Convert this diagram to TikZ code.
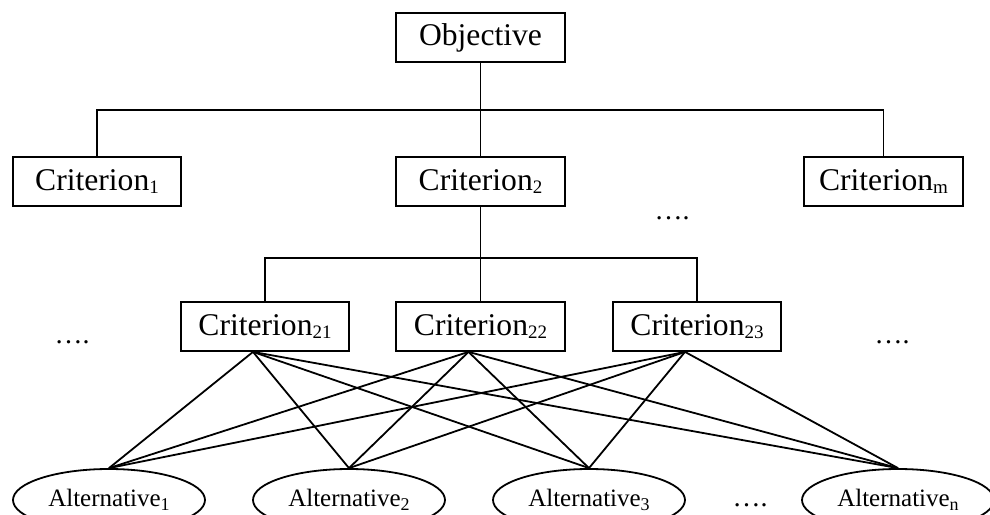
\documentclass[tikz,border=0pt]{standalone}
\usepackage{fontspec}
\setmainfont{Liberation Serif}
\usetikzlibrary{shapes.geometric}
\newcommand{\csub}[1]{\raisebox{-3pt}{\fontsize{19}{19}\selectfont #1}}
\newcommand{\asub}[1]{\raisebox{-4pt}{\fontsize{18}{18}\selectfont #1}}
\tikzset{
  crit/.style={draw, line width=1.8pt, minimum height=49pt, inner sep=0pt, font=\fontsize{31.6}{36}\selectfont},
  alt/.style={draw, ellipse, line width=1.8pt, minimum width=192pt, minimum height=62pt, inner sep=0pt, font=\fontsize{25}{28}\selectfont},
  dots/.style={anchor=base, inner sep=0pt, font=\fontsize{28}{30}\selectfont},
  conn/.style={line width=1.8pt}
}
\begin{document}
\begin{tikzpicture}[x=1pt,y=-1pt]
\useasboundingbox (0,0) rectangle (990,514);
\clip (0,0) rectangle (990,514);
% top level
\node[crit, minimum width=169pt] (obj) at (480.5,37.5) {Objective};
\node[crit, minimum width=168pt] (c1) at (97,181.5) {Criterion\csub{1}};
\node[crit, minimum width=169pt] (c2) at (480.5,181.5) {Criterion\csub{2}};
\node[crit, minimum width=159pt] (cm) at (883.5,181.5) {Criterion\csub{m}};
\node[crit, minimum width=168pt] (c21) at (265,326.5) {Criterion\csub{21}};
\node[crit, minimum width=169pt] (c22) at (480.5,326.5) {Criterion\csub{22}};
\node[crit, minimum width=168pt] (c23) at (697,326.5) {Criterion\csub{23}};
% alternatives
\node[alt] (a1) at (109,500) {Alternative\asub{1}};
\node[alt] (a2) at (349,500) {Alternative\asub{2}};
\node[alt] (a3) at (589,500) {Alternative\asub{3}};
\node[alt] (an) at (898,500) {Alternative\asub{n}};
% dots
\node[dots] (d1) at (672,219) {….};
\node[dots] (d2) at (72,343) {….};
\node[dots] (d3) at (892,343) {….};
\node[dots] (d4) at (750,506) {….};
% tree connectors
\coordinate (j1) at (480.5,110);
\draw[conn] (obj.south) -- (j1);
\draw[conn] (c1.north) |- (j1) -| (cm.north);
\draw[conn] (j1) -- (c2.north);
\coordinate (j2) at (480.5,258);
\draw[conn] (c2.south) -- (j2);
\draw[conn] (c21.north) |- (j2) -| (c23.north);
\draw[conn] (j2) -- (c22.north);
% apex points
\coordinate (p21) at ([xshift=-12pt]c21.south);
\coordinate (p22) at ([xshift=-12pt]c22.south);
\coordinate (p23) at ([xshift=-12pt]c23.south);
\foreach \p in {p21,p22,p23}{
  \foreach \a in {a1,a2,a3,an}{
    \draw[conn] (\p) -- (\a.north);
  }
}
\end{tikzpicture}
\end{document}
